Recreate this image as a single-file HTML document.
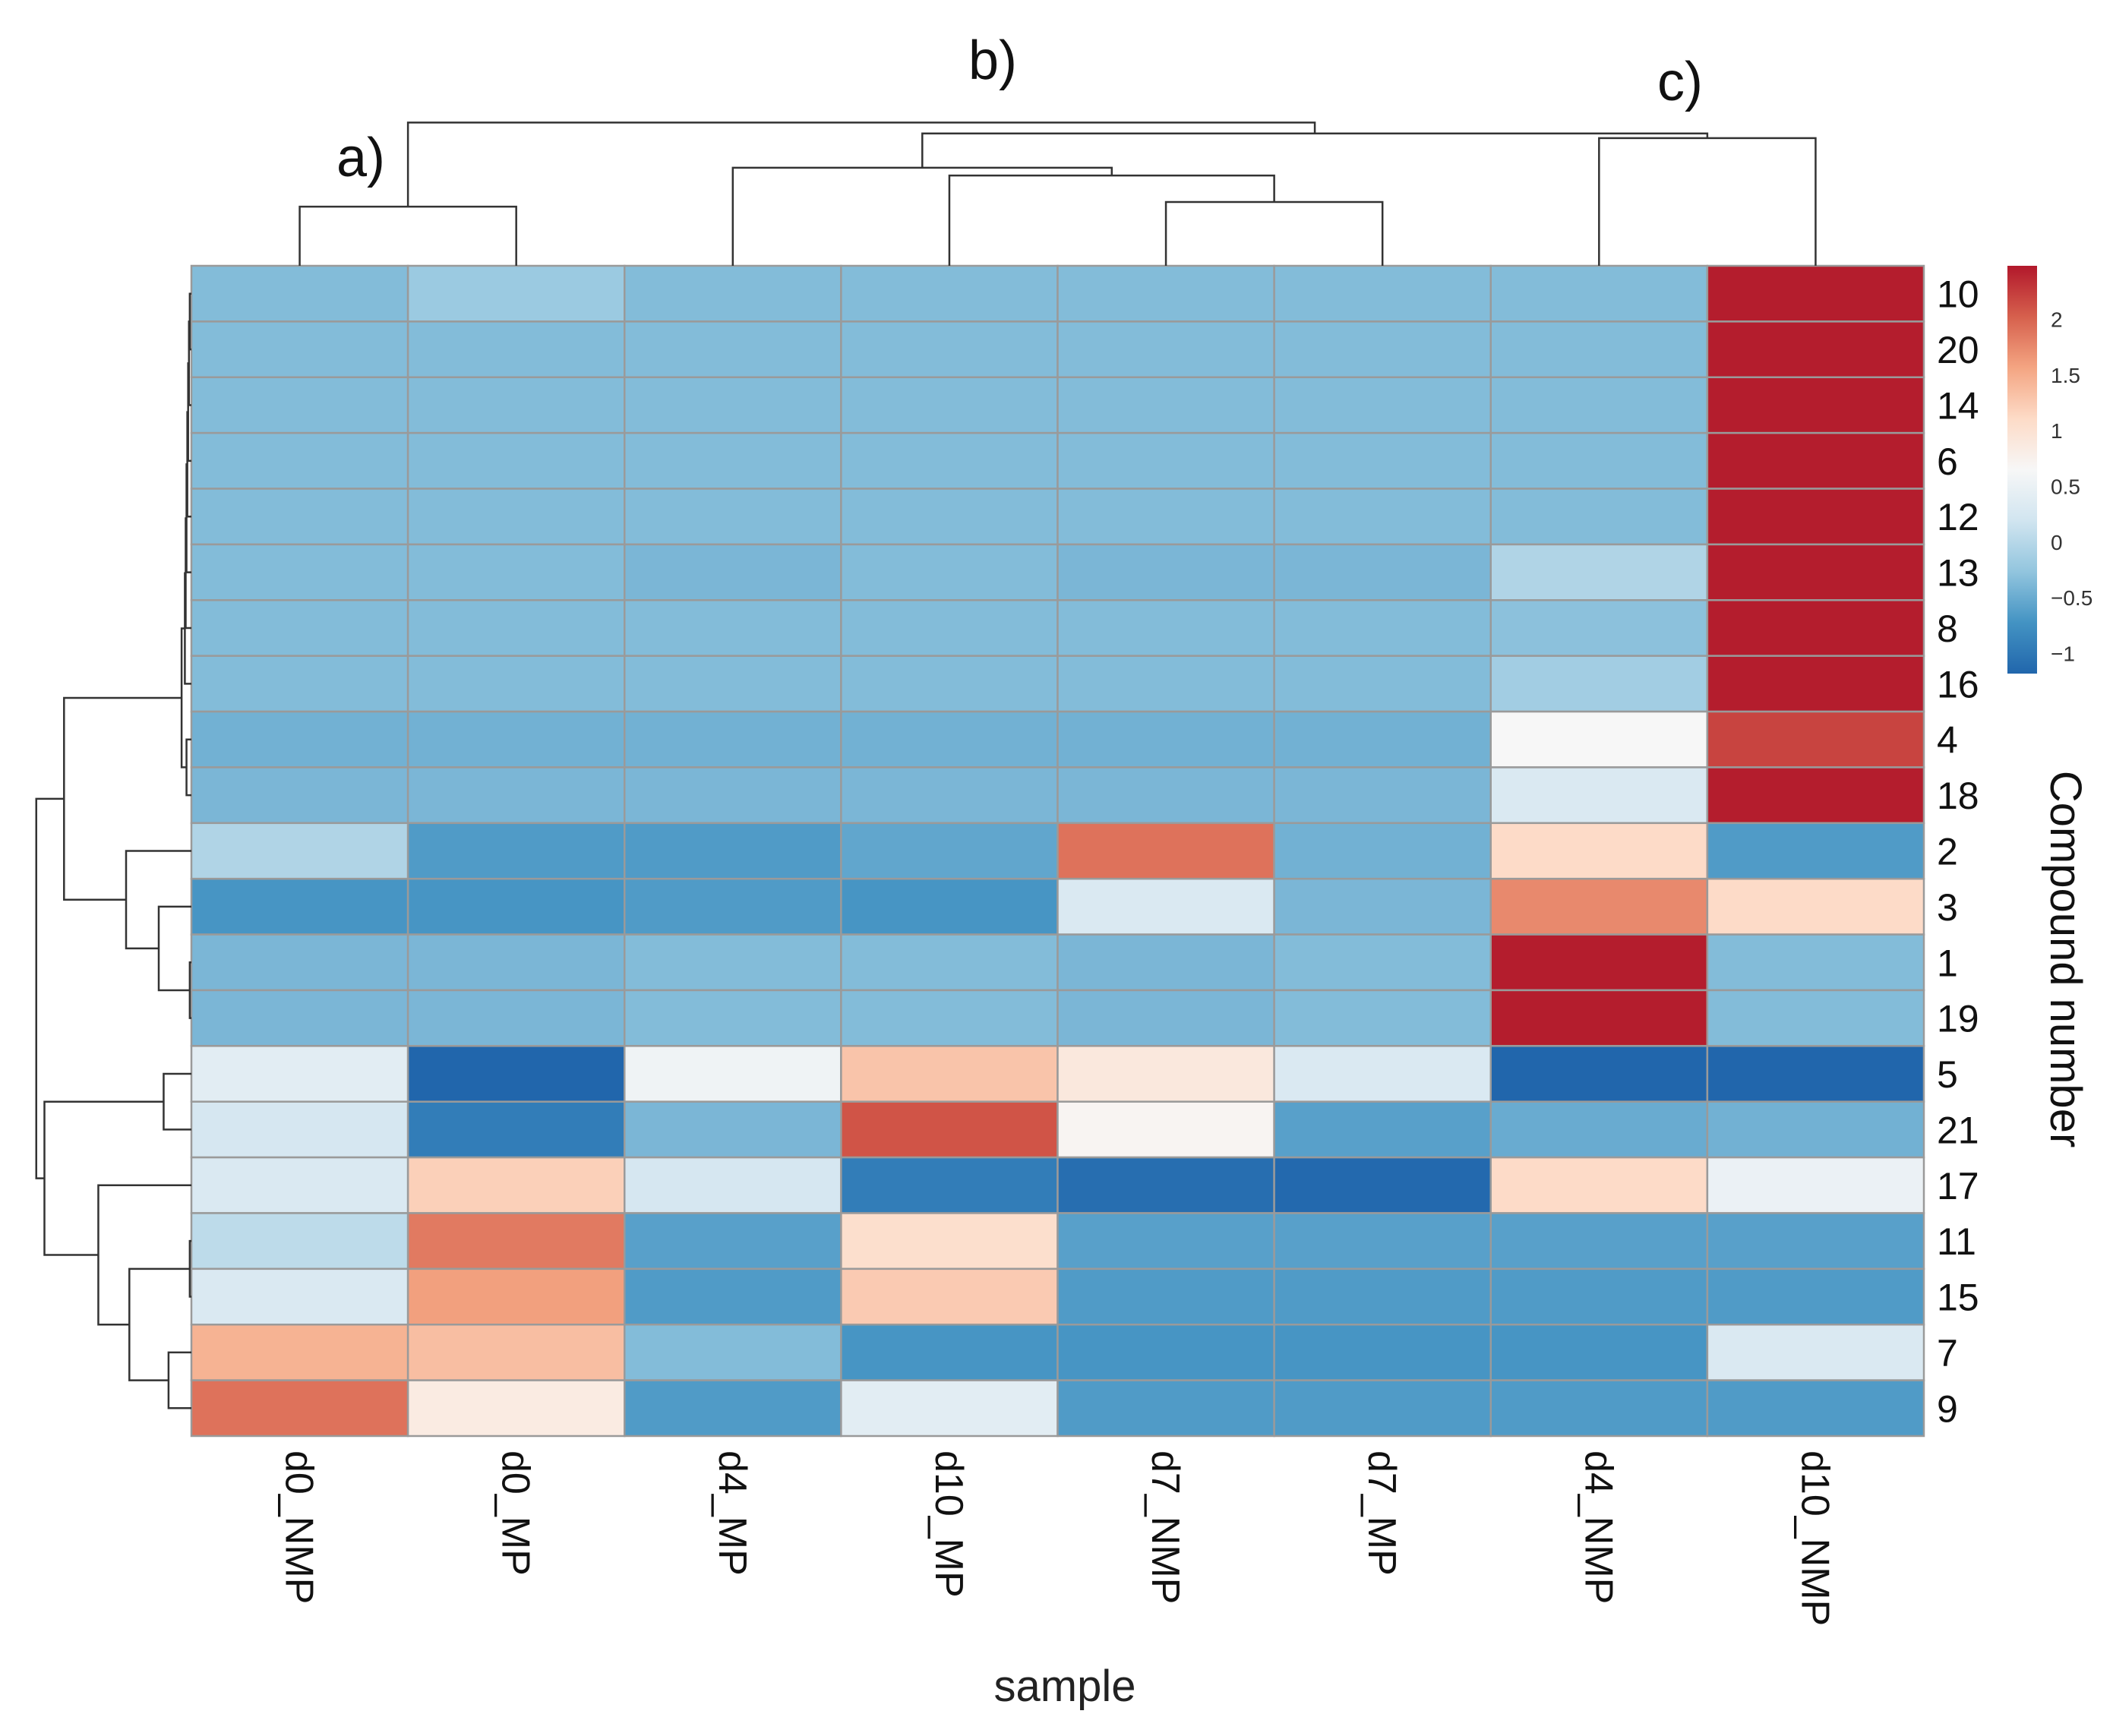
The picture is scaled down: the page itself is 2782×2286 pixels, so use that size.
<!DOCTYPE html>
<html><head><meta charset="utf-8"><style>
html,body{margin:0;padding:0;background:#fff;}
svg{display:block;font-family:"Liberation Sans",sans-serif;}
</style></head><body>
<svg id="chart" width="2782" height="2286" viewBox="0 0 2782 2286" xmlns="http://www.w3.org/2000/svg">
<defs><linearGradient id="cbg" x1="0" y1="1" x2="0" y2="0">
<stop offset="0" stop-color="#2166AC"/><stop offset="0.125" stop-color="#4393C3"/><stop offset="0.25" stop-color="#92C5DE"/><stop offset="0.375" stop-color="#D1E5F0"/><stop offset="0.5" stop-color="#F7F7F7"/><stop offset="0.625" stop-color="#FDDBC7"/><stop offset="0.75" stop-color="#F4A582"/><stop offset="0.875" stop-color="#D6604D"/><stop offset="1" stop-color="#B2182B"/>
</linearGradient></defs>
<g id="cells"></g>
<g id="dendro" stroke="#333" stroke-width="2.5" fill="none"></g>
<g id="labels"></g>
<rect x="2643" y="350" width="39" height="537" fill="url(#cbg)"/>
<g id="cbticks"></g>
<text x="1402" y="2240" font-size="58" text-anchor="middle" fill="#222">sample</text>
<text transform="translate(2700,1263) rotate(90)" font-size="58" text-anchor="middle" fill="#111">Compound number</text>
<text x="475" y="232" font-size="72" text-anchor="middle" fill="#111">a)</text>
<text x="1307" y="104" font-size="72" text-anchor="middle" fill="#111">b)</text>
<text x="2212" y="132" font-size="72" text-anchor="middle" fill="#111">c)</text>
</svg>
<script>
const samples = ["d0_NMP","d0_MP","d4_MP","d10_MP","d7_NMP","d7_MP","d4_NMP","d10_NMP"];
const compounds = ["10","20","14","6","12","13","8","16","4","18","2","3","1","19","5","21","17","11","15","7","9"];
const values = [
 [-0.35,-0.2,-0.35,-0.35,-0.35,-0.35,-0.35,2.45],
 [-0.35,-0.35,-0.35,-0.35,-0.35,-0.35,-0.35,2.45],
 [-0.35,-0.35,-0.35,-0.35,-0.35,-0.35,-0.35,2.45],
 [-0.35,-0.35,-0.35,-0.35,-0.35,-0.35,-0.35,2.45],
 [-0.35,-0.35,-0.35,-0.35,-0.35,-0.35,-0.35,2.45],
 [-0.35,-0.35,-0.4,-0.35,-0.4,-0.4,-0.05,2.45],
 [-0.35,-0.35,-0.35,-0.35,-0.35,-0.35,-0.3,2.45],
 [-0.35,-0.35,-0.35,-0.35,-0.35,-0.35,-0.15,2.45],
 [-0.45,-0.45,-0.45,-0.45,-0.45,-0.45,0.65,2.2],
 [-0.4,-0.4,-0.4,-0.4,-0.4,-0.4,0.3,2.45],
 [-0.05,-0.65,-0.65,-0.55,1.9,-0.45,1.1,-0.65],
 [-0.7,-0.7,-0.65,-0.7,0.3,-0.4,1.75,1.1],
 [-0.4,-0.4,-0.35,-0.35,-0.4,-0.35,2.45,-0.35],
 [-0.4,-0.4,-0.35,-0.35,-0.4,-0.35,2.45,-0.35],
 [0.4,-1.18,0.55,1.3,0.9,0.3,-1.18,-1.18],
 [0.25,-0.95,-0.4,2.1,0.7,-0.6,-0.5,-0.45],
 [0.3,1.2,0.25,-0.95,-1.1,-1.15,1.1,0.5],
 [0.05,1.85,-0.6,1.05,-0.6,-0.6,-0.6,-0.6],
 [0.3,1.6,-0.65,1.25,-0.65,-0.65,-0.65,-0.65],
 [1.45,1.35,-0.35,-0.7,-0.7,-0.7,-0.7,0.3],
 [1.9,0.85,-0.65,0.4,-0.65,-0.65,-0.65,-0.65]
];
const legendTicks = [-1,-0.5,0,0.5,1,1.5,2];
const legendTickLabels = ["\u22121","\u22120.5","0","0.5","1","1.5","2"];
const colMerges = [[0,1,0.38],[4,5,0.41],[3,9,0.58],[2,10,0.63],[6,7,0.82],[11,12,0.85],[8,13,0.92]];
const rowMerges = [[0,1,0.01],[2,21,0.015],[3,22,0.02],[4,23,0.025],[5,24,0.03],[6,25,0.035],[7,26,0.04],[8,9,0.03],[27,28,0.06],
 [12,13,0.01],[11,30,0.2],[10,31,0.4],[29,32,0.78],
 [14,15,0.17],[17,18,0.01],[19,20,0.14],[35,36,0.38],[16,37,0.57],[34,38,0.9],[33,39,0.95]];

const X0=252,X1=2533,Y0=350,Y1=1891;
const cw=(X1-X0)/samples.length, rh=(Y1-Y0)/compounds.length;
const pal=["#2166AC","#4393C3","#92C5DE","#D1E5F0","#F7F7F7","#FDDBC7","#F4A582","#D6604D","#B2182B"];
const vmin=-1.18,vmax=2.48;
function hex(c){return [1,3,5].map(i=>parseInt(c.substr(i,2),16));}
function color(v){let t=(v-vmin)/(vmax-vmin);t=Math.max(0,Math.min(1,t))*8;let i=Math.min(7,Math.floor(t)),f=t-i;
 const a=hex(pal[i]),b=hex(pal[i+1]);return "rgb("+a.map((x,k)=>Math.round(x+(b[k]-x)*f)).join(",")+")";}
const xOf=c=>X0+c*cw, yOf=r=>Y0+r*rh;
const NS="http://www.w3.org/2000/svg";
function mk(tag,attrs,parent){const e=document.createElementNS(NS,tag);for(const k in attrs)e.setAttribute(k,attrs[k]);parent.appendChild(e);return e;}
const cells=document.getElementById("cells");
values.forEach((row,r)=>row.forEach((v,c)=>{
 const e=mk("rect",{x:xOf(c),y:yOf(r),width:cw,height:rh,fill:color(v),stroke:"#9a9a9a","stroke-width":2.5},cells);
 
 
}));
const labels=document.getElementById("labels");
compounds.forEach((t,r)=>{
 const e=mk("text",{x:2550,y:yOf(r)+rh/2+18,"font-size":50,fill:"#111"},labels);e.textContent=t;
 
 
});
samples.forEach((t,c)=>{
 const x=xOf(c)+cw/2;
 const e=mk("text",{transform:"translate("+(x-18)+",1910) rotate(90)","font-size":52,fill:"#111"},labels);e.textContent=t;
 
 
});
const cb=document.getElementById("cbticks");
const cbY=v=>887-(v-vmin)/(vmax-vmin)*537;
legendTicks.forEach((v,i)=>{
 const e=mk("text",{x:2700,y:cbY(v)+10,"font-size":28,fill:"#333"},cb);e.textContent=legendTickLabels[i];
 
 
});
const dg=document.getElementById("dendro");
function colDend(){const pos=[],h=[];for(let i=0;i<samples.length;i++){pos.push(xOf(i)+cw/2);h.push(0);}
 const hy=v=>Y0-v*205;
 colMerges.forEach(m=>{const [a,b,ht]=m;const y=hy(ht);
  const p=mk("path",{d:"M"+pos[a]+","+hy(h[a])+"V"+y+"H"+pos[b]+"V"+hy(h[b])},dg);
  
  
  pos.push((pos[a]+pos[b])/2);h.push(ht);});}
function rowDend(){const pos=[],h=[];for(let i=0;i<compounds.length;i++){pos.push(yOf(i)+rh/2);h.push(0);}
 const hx=v=>X0-v*215;
 rowMerges.forEach(m=>{const [a,b,ht]=m;const x=hx(ht);
  const p=mk("path",{d:"M"+hx(h[a])+","+pos[a]+"H"+x+"V"+pos[b]+"H"+hx(h[b])},dg);
  
  
  pos.push((pos[a]+pos[b])/2);h.push(ht);});}
colDend();rowDend();
</script>
</body></html>
